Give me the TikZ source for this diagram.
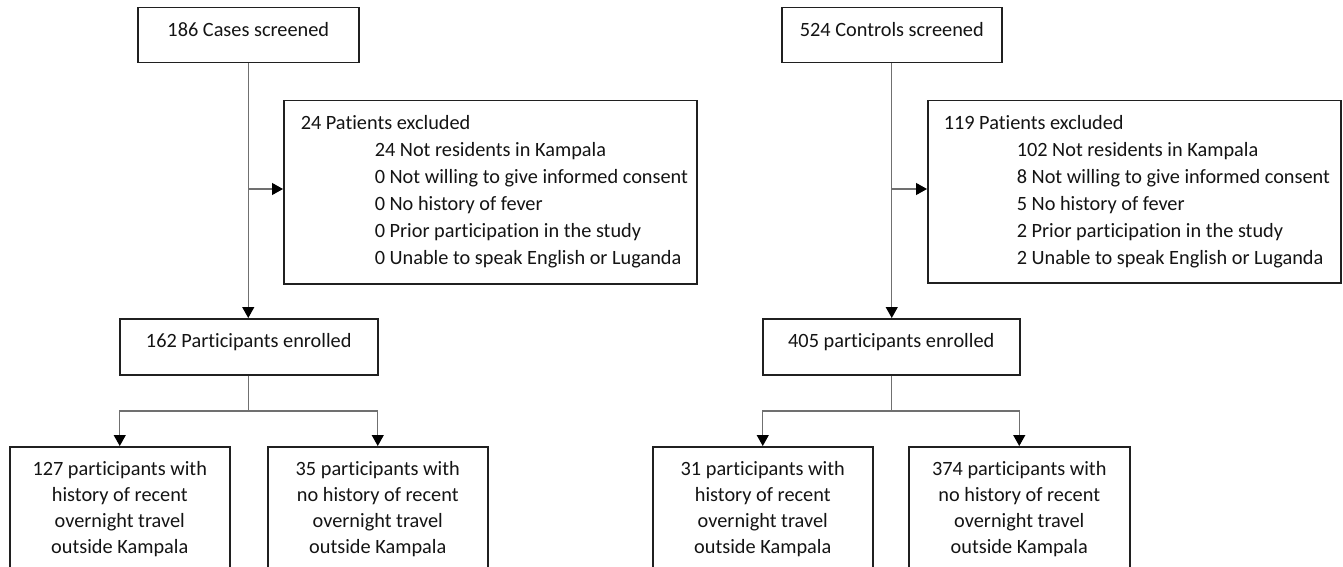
\documentclass[tikz,border=0pt]{standalone}
\usepackage{fontspec}
\setmainfont[Ligatures=NoCommon]{Carlito}
\usetikzlibrary{arrows.meta}
\definecolor{boxline}{HTML}{202020}
\definecolor{conn}{HTML}{707070}
\definecolor{txt}{HTML}{141414}
\tikzset{
  flowbox/.style={draw=boxline, line width=1.5pt, inner sep=0pt, anchor=north west, text=txt},
  link/.style={draw=conn, line width=1.2pt},
  arrowlink/.style={link, -{Triangle[width=12pt,length=11pt,color=black]}},
}
\newcommand{\ctext}[4]{\parbox[t][#2][t]{#1}{\centering\rule{0pt}{#3}#4}}
\begin{document}
\begin{tikzpicture}[x=1pt,y=-1pt]
\useasboundingbox (0,0) rectangle (1343,567);
\clip (0,0) rectangle (1343,567);
\fill[white] (0,0) rectangle (1343,567);
\fontsize{20.3}{27}\selectfont
% top boxes
\node[flowbox] (scrA) at (137,7) {\ctext{221pt}{55pt}{29pt}{186 Cases screened}};
\node[flowbox] (scrB) at (781,7) {\ctext{220pt}{55pt}{29pt}{524 Controls screened}};
% excluded boxes
\node[flowbox] (excA) at (283,100) {\parbox[t][183pt][t]{413pt}{\raggedright\rule{0pt}{28.3pt}\hspace*{17pt}24 Patients excluded\\
\hspace*{91pt}24 Not residents in Kampala\\
\hspace*{91pt}0 Not willing to give informed consent\\
\hspace*{91pt}0 No history of fever\\
\hspace*{91pt}0 Prior participation in the study\\
\hspace*{91pt}0 Unable to speak English or Luganda}};
\node[flowbox] (excB) at (927,100) {\parbox[t][182pt][t]{413pt}{\raggedright\rule{0pt}{28.3pt}\hspace*{16pt}119 Patients excluded\\
\hspace*{89pt}102 Not residents in Kampala\\
\hspace*{89pt}8 Not willing to give informed consent\\
\hspace*{89pt}5 No history of fever\\
\hspace*{89pt}2 Prior participation in the study\\
\hspace*{89pt}2 Unable to speak English or Luganda}};
% enrolled boxes
\node[flowbox] (enrA) at (119,318) {\ctext{258pt}{56pt}{28.7pt}{162 Participants enrolled}};
\node[flowbox] (enrB) at (762,318) {\ctext{257pt}{56pt}{28.7pt}{405 participants enrolled}};
% bottom boxes (cut off by the picture's lower edge)
\fontsize{20.3}{26}\selectfont
\node[flowbox] (trA) at (9,446) {\ctext{220pt}{150pt}{29pt}{127 participants with\\history of recent\\overnight travel\\outside Kampala}};
\node[flowbox] (ntA) at (267,446) {\ctext{220pt}{150pt}{29pt}{35 participants with\\no history of recent\\overnight travel\\outside Kampala}};
\node[flowbox] (trB) at (652,446) {\ctext{220pt}{150pt}{29pt}{31 participants with\\history of recent\\overnight travel\\outside Kampala}};
\node[flowbox] (ntB) at (908,446) {\ctext{221pt}{150pt}{29pt}{374 participants with\\no history of recent\\overnight travel\\outside Kampala}};
% connectors, cases
\draw[arrowlink] (scrA.south) -- (scrA.south |- enrA.north);
\coordinate (jA) at (scrA.south |- 0,189);
\draw[arrowlink] (jA) -- (jA -| excA.west);
\coordinate (sA) at (enrA.south |- 0,411);
\draw[link] (enrA.south) -- (sA);
\draw[arrowlink] (sA) -| (trA.north);
\draw[arrowlink] (sA) -| (ntA.north);
% connectors, controls
\draw[arrowlink] (scrB.south) -- (scrB.south |- enrB.north);
\coordinate (jB) at (scrB.south |- 0,189);
\draw[arrowlink] (jB) -- (jB -| excB.west);
\coordinate (sB) at (enrB.south |- 0,411);
\draw[link] (enrB.south) -- (sB);
\draw[arrowlink] (sB) -| (trB.north);
\draw[arrowlink] (sB) -| (ntB.north);
\end{tikzpicture}
\end{document}
